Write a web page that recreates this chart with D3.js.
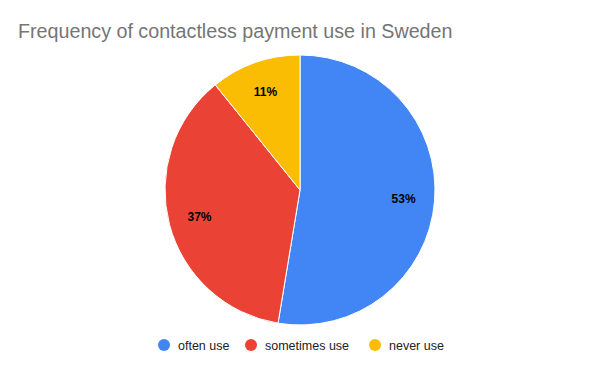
<!DOCTYPE html>
<html><head><meta charset="utf-8">
<script src="https://cdn.jsdelivr.net/npm/d3@7"></script>
<style>body{margin:0;background:#fff}svg{display:block}</style>
</head><body>
<script>
const categories = ["often use", "sometimes use", "never use"];
const values = [52.6, 36.6, 10.8];
const colors = ["#4285f4", "#ea4335", "#fbbc04"];

const W = 600, H = 371, cx = 300, cy = 190, r = 135;
const svg = d3.select("body").append("svg").attr("width", W).attr("height", H);

svg.append("text").attr("x", 18).attr("y", 38)
  .attr("font-family", "Liberation Sans, Arial, sans-serif").attr("font-size", 19.7)
  .attr("fill", "#757575").text("Frequency of contactless payment use in Sweden");

const data = categories.map((c, i) => ({c, v: values[i], color: colors[i]}));
const total = d3.sum(values);
const pie = d3.pie().sort(null).value(d => d.v);
const arcs = pie(data);
const arc = d3.arc().innerRadius(0).outerRadius(r);
const labelArc = d3.arc().innerRadius(r * 0.77).outerRadius(r * 0.77);

const g = svg.append("g").attr("transform", `translate(${cx},${cy})`);
g.selectAll("path").data(arcs).join("path")
  .attr("d", arc).attr("fill", d => d.data.color)
  .attr("stroke", "#fff").attr("stroke-width", 1);

g.selectAll("text.lbl").data(arcs).join("text").attr("class", "lbl")
  .attr("transform", d => `translate(${labelArc.centroid(d)})`)
  .attr("text-anchor", "middle").attr("dy", "0.35em")
  .attr("font-family", "Liberation Sans, Arial, sans-serif").attr("font-size", 12)
  .attr("font-weight", "bold").attr("fill", "#000")
  .text(d => Math.round(d.data.v / total * 100) + "%");

const legendX = [164, 251, 375];
const lg = svg.append("g");
data.forEach((d, i) => {
  lg.append("circle").attr("cx", legendX[i]).attr("cy", 345).attr("r", 6).attr("fill", d.color);
  lg.append("text").attr("x", legendX[i] + 14).attr("y", 349.5)
    .attr("font-family", "Liberation Sans, Arial, sans-serif").attr("font-size", 12.5)
    .attr("fill", "#222").text(d.c);
});
</script>
</body></html>
